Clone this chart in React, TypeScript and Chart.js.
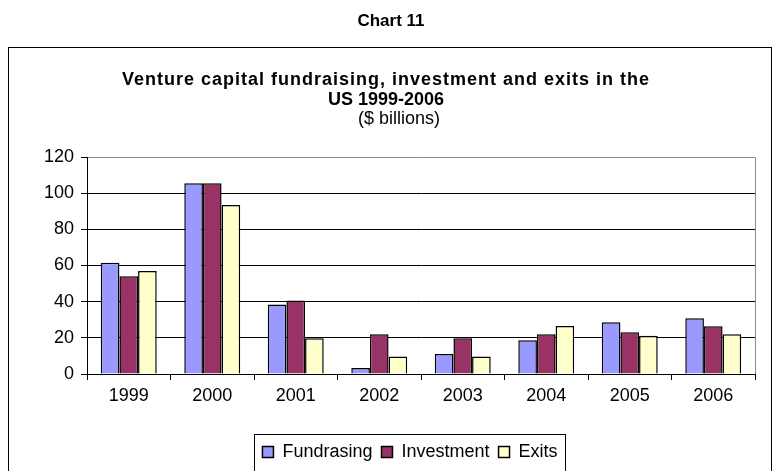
import React, { useEffect, useRef } from "react";
import { Chart, registerables } from "chart.js";

Chart.register(...registerables);

const years = ["1999", "2000", "2001", "2002", "2003", "2004", "2005", "2006"];
const fundraising = [61.5, 105.5, 38.5, 3.3, 11, 18.7, 28.6, 30.8];
const investment = [54, 105.5, 40.7, 22, 19.8, 22, 23.1, 26.4];
const exits = [57, 93.5, 19.8, 9.7, 9.7, 26.6, 21.1, 22];
const yTicks = [0, 20, 40, 60, 80, 100, 120];

const FONT = "Arial, 'Liberation Sans', sans-serif";
const FS = 18;

const decor = {
  id: "decor",
  afterLayout(chart: any) {
    const lg = chart.legend;
    if (lg) {
      const target = 410;
      const curCenter = (lg.left + lg.right) / 2;
      const dx = target - curCenter;
      lg.left += dx;
      lg.right += dx;
    }
  },
  beforeDraw(chart: any) {
    const ctx = chart.ctx;
    ctx.save();
    ctx.fillStyle = "#fff";
    ctx.fillRect(0, 0, chart.width, chart.height);
    ctx.fillStyle = "#000";
    ctx.textAlign = "center";
    ctx.textBaseline = "middle";
    ctx.font = `bold 17px ${FONT}`;
    ctx.fillText("Chart 11", 391, 21);
    ctx.strokeStyle = "#000";
    ctx.lineWidth = 1;
    ctx.strokeRect(8.5, 47.5, 763, 500);
    ctx.font = `bold ${FS}px ${FONT}`;
    (ctx as any).letterSpacing = "1px";
    ctx.fillText("Venture capital fundraising, investment and exits in the", 386, 80);
    (ctx as any).letterSpacing = "0px";
    ctx.fillText("US 1999-2006", 386, 100);
    ctx.font = `${FS}px ${FONT}`;
    ctx.fillText("($ billions)", 399, 119);
    ctx.restore();
  },
  afterDraw(chart: any) {
    const ctx = chart.ctx;
    const a = chart.chartArea;
    ctx.save();
    ctx.strokeStyle = "#8c8c8c";
    ctx.lineWidth = 1;
    ctx.beginPath();
    ctx.moveTo(Math.round(a.right) + 0.5, a.top);
    ctx.lineTo(Math.round(a.right) + 0.5, a.bottom);
    ctx.stroke();
    const lg = chart.legend;
    if (lg && lg.legendHitBoxes && lg.legendHitBoxes.length) {
      const hb = lg.legendHitBoxes;
      const l = hb[0].left - 8;
      const last = hb[hb.length - 1];
      const r = last.left + last.width + 8;
      ctx.strokeStyle = "#000";
      ctx.strokeRect(Math.round(l) + 0.5, 434.5, Math.round(r - l), 60);
    }
    ctx.restore();
  },
};

export default function App() {
  const ref = useRef<HTMLCanvasElement>(null);
  useEffect(() => {
    const mk = (label: string, data: number[], color: string) => ({
      label,
      data,
      backgroundColor: color,
      borderColor: "#000",
      borderWidth: 1.5,
      barPercentage: 1,
      categoryPercentage: 0.67,
    });
    const chart = new Chart(ref.current!, {
      type: "bar",
      data: {
        labels: years,
        datasets: [
          mk("Fundrasing", fundraising, "#9999FF"),
          mk("Investment", investment, "#993366"),
          mk("Exits", exits, "#FFFFCC"),
        ],
      },
      options: {
        animation: false,
        responsive: false,
        maintainAspectRatio: false,
        layout: { padding: { top: 157, left: 8, right: 25, bottom: 0 } },
        plugins: {
          title: { display: false },
          tooltip: { enabled: false },
          legend: {
            position: "bottom",
            labels: {
              boxWidth: 11,
              boxHeight: 11,
              padding: 9,
              color: "#000",
              font: { family: FONT, size: FS },
            },
          },
        },
        scales: {
          x: {
            afterFit: (s: any) => {
              s.height = 60;
            },
            grid: {
              display: true,
              drawOnChartArea: false,
              drawTicks: true,
              tickLength: 6,
              color: "#000",
              offset: true,
            },
            border: { color: "#000", width: 1 },
            ticks: { color: "#000", padding: 5, font: { family: FONT, size: FS } },
          },
          y: {
            min: 0,
            max: 120,
            afterFit: (s: any) => {
              s.width = 79;
            },
            afterBuildTicks: (s: any) => {
              s.ticks = yTicks.map((v) => ({ value: v }));
            },
            grid: {
              color: (c: any) => (c.tick && c.tick.value === 120 ? "#8c8c8c" : "#000"),
              tickLength: 6,
              tickColor: "#000",
            },
            border: { color: "#000", width: 1 },
            ticks: { color: "#000", padding: 7, font: { family: FONT, size: FS } },
          },
        },
      },
      plugins: [decor],
    } as any);
    return () => chart.destroy();
  }, []);
  return (
    <div style={{ position: "absolute", left: 0, top: 0, width: 780, height: 471, background: "#fff" }}>
      <canvas ref={ref} width={780} height={471} style={{ display: "block" }} />
    </div>
  );
}
